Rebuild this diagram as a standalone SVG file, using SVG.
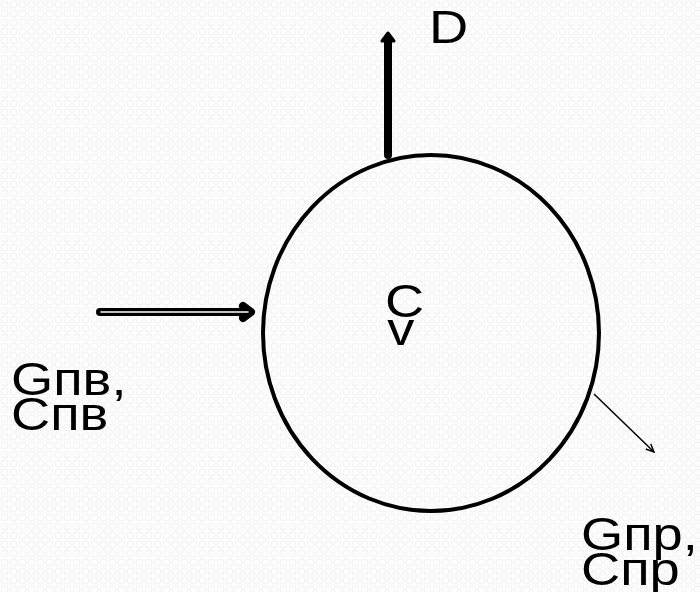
<svg xmlns="http://www.w3.org/2000/svg" width="700" height="592" viewBox="0 0 700 592">
  <defs>
    <!-- faint textured paper background -->
    <pattern id="paper" width="9" height="9" patternUnits="userSpaceOnUse">
      <rect width="9" height="9" fill="#fdfdfd"/>
      <circle cx="4.5" cy="4.5" r="3.5" fill="none" stroke="#f1f1f1" stroke-width="1"/>
    </pattern>
    <marker id="thin-head" viewBox="0 0 10 10" refX="9" refY="5" markerWidth="9" markerHeight="9" markerUnits="userSpaceOnUse" orient="auto">
      <path d="M0,1 L9,5 L0,9" fill="none" stroke="#000" stroke-width="1.6"/>
    </marker>
    <style>
      .lbl { font-family: "Liberation Sans", Arial, sans-serif; font-size: 46px; fill: #000; }
    </style>
  </defs>

  <rect width="700" height="592" fill="url(#paper)"/>

  <!-- reservoir -->
  <g id="vessel">
    <ellipse cx="431" cy="333" rx="168" ry="178" fill="none" stroke="#000" stroke-width="4"/>
    <text class="lbl" transform="translate(385,317) scale(1.18,1)"><tspan x="0" y="0">C</tspan><tspan x="2" y="28">v</tspan></text>
  </g>

  <g id="connectors">
    <!-- steam outlet D -->
    <line x1="388" y1="155" x2="388" y2="40" stroke="#000" stroke-width="8" stroke-linecap="round"/>
    <path d="M382,41 L388,33 L394,41 Z" fill="#000" stroke="#000" stroke-width="3" stroke-linejoin="round"/>

    <!-- feedwater inlet (hollow arrow) -->
    <g fill="none" stroke-linecap="round" stroke-linejoin="round">
      <path d="M100,312 L250,312 M243,306 L251,312 L243,318" stroke="#000" stroke-width="8"/>
      <path d="M101,312 L248,312" stroke="#fff" stroke-width="1.6"/>
    </g>

    <!-- blowdown outlet -->
    <line x1="594" y1="394" x2="654" y2="452" stroke="#000" stroke-width="1.5" marker-end="url(#thin-head)"/>
  </g>

  <g id="label-D">
    <text class="lbl" transform="translate(429,43) scale(1.18,1)">D</text>
  </g>
  <g id="label-inlet">
    <text class="lbl" transform="translate(11,395) scale(1.18,1)"><tspan x="0" y="0">Gпв,</tspan><tspan x="0" y="35">Спв</tspan></text>
  </g>
  <g id="label-outlet">
    <text class="lbl" transform="translate(581,550) scale(1.18,1)"><tspan x="0" y="0">Gпр,</tspan><tspan x="0" y="35">Спр</tspan></text>
  </g>
</svg>
